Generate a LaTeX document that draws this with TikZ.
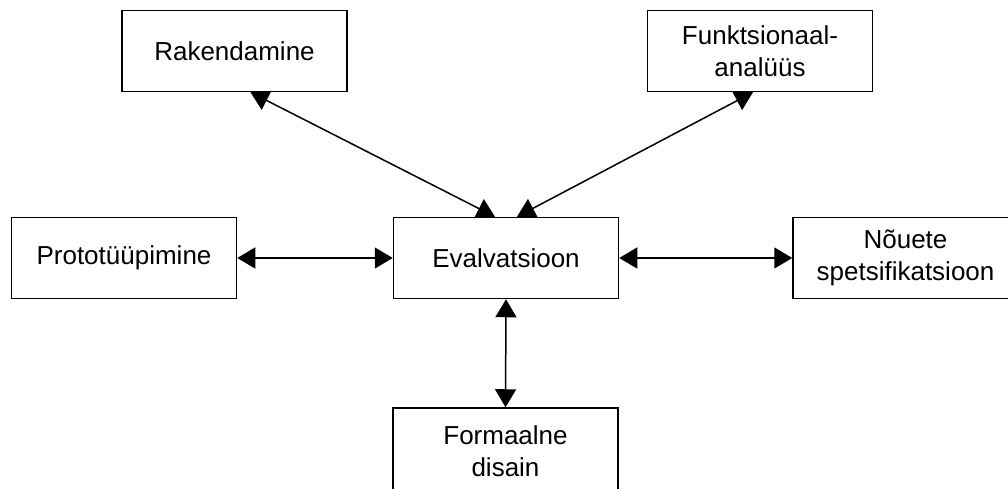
\documentclass[tikz,border=0pt]{standalone}
\usepackage{fontspec}
\setmainfont{Liberation Sans}
\usetikzlibrary{arrows.meta}
\begin{document}
\begin{tikzpicture}[x=1pt,y=-1pt,
  box/.style={draw, line width=1.5pt, minimum width=225pt, minimum height=81pt, inner sep=0pt, align=center, font=\fontsize{26}{32}\selectfont},
  conn/.style={line width=1.5pt, {Triangle[length=18pt,width=21pt]}-{Triangle[length=18pt,width=21pt]}}]
\useasboundingbox (0,0) rectangle (1008,489);
\node[box] (rak) at (234.5,51) {Rakendamine};
\node[box] (fun) at (760,51) {Funktsionaal-\\analüüs};
\node[box] (pro) at (124,258) {Prototüüpimine};
\node[box] (eva) at (506,258) {Evalvatsioon};
\node[box] (nou) at (905.5,258) {Nõuete\\spetsifikatsioon};
\node[box, minimum height=86pt] (for) at (505.5,451) {Formaalne\\disain};
\draw[conn] ([xshift=16pt]rak.south) -- ([xshift=-11pt]eva.north);
\draw[conn] ([xshift=-7pt]fun.south) -- ([xshift=11pt]eva.north);
\draw[conn] (pro.east) -- (eva.west);
\draw[conn] (eva.east) -- (nou.west);
\draw[conn] (eva.south) -- (for.north);
\end{tikzpicture}
\end{document}
